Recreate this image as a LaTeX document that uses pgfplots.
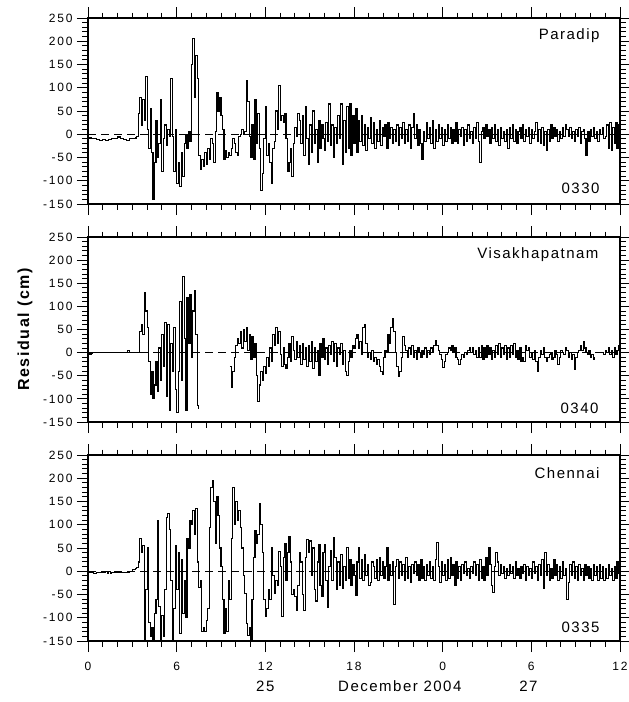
\documentclass[border=0pt]{standalone}
\usepackage{fontspec}
\setmainfont{Liberation Sans}
\newfontfamily\tickf[LetterSpace=15]{Liberation Sans}
\newfontfamily\labf[LetterSpace=10]{Liberation Sans}
\usepackage{pgfplots}
\pgfplotsset{compat=1.18}

\pgfplotsset{
  panel/.style={
    scale only axis, width=532pt, height=186pt, anchor=north west,
    xmin=0, xmax=36, ymin=-150, ymax=250,
    xtick={0,6,...,36}, minor x tick num=5,
    ytick={-150,-100,...,250}, minor y tick num=4,
    tick align=outside, major tick length=11pt, minor tick length=5.5pt,
    tick style={black, line width=1pt},
    axis line style={line width=1.3pt},
    clip mode=individual,
    ticklabel style={font=\tickf\fontsize{12}{13}\selectfont},
    yticklabel style={xshift=-1pt},
    /pgf/number format/assume math mode=true,
  },
  zero/.style={black, line width=1.1pt, dash pattern=on 8pt off 5pt},
  res/.style={black, line width=1.1pt, const plot, mark=none},
}
\tikzset{stn/.style={anchor=east, font=\labf\fontsize{15}{16}\selectfont}}

\begin{document}
\begin{tikzpicture}
\useasboundingbox (0,0) rectangle (629pt,-702pt);

% ---- Paradip
\begin{axis}[panel, at={(88pt,-18pt)}, xticklabels={}]
\addplot[zero] coordinates {(0,0) (36,0)};
\addplot[res] coordinates {
(0,-8)(0.2,-9)(0.4,-10)(0.6,-12)(0.8,-14)(1.0,-11)(1.2,-13)(1.4,-12)(1.6,-10)(1.8,-9)(2.0,-6)(2.2,-9)(2.4,-11)(2.6,-13)(2.8,-10)(3.0,-9)(3.2,-8)
(3.3,-5)(3.4,45)(3.5,80)(3.6,20)(3.7,75)(3.8,30)(3.9,125)(4.0,10)(4.1,-30)(4.2,55)(4.3,-40)(4.4,-140)(4.5,-60)(4.6,30)(4.7,-50)(4.8,-20)(4.9,75)
(5.0,-80)(5.1,-10)(5.2,20)(5.3,-25)(5.4,10)(5.5,-5)(5.6,120)(5.7,-5)(5.8,-80)(5.9,10)(6.0,-105)(6.1,-60)(6.2,-112)(6.3,-40)(6.4,-90)(6.5,-20)(6.6,0)(6.7,-30)(6.8,5)(6.9,-15)
(7.0,150)(7.1,205)(7.2,80)(7.3,170)(7.4,120)(7.5,-45)(7.6,-75)(7.7,-55)(7.8,-70)(7.9,-40)(8.0,-65)(8.1,-30)(8.2,-55)(8.3,-10)(8.4,-20)(8.5,-60)(8.6,5)(8.7,90)(8.8,50)(8.9,80)
(9.0,40)(9.1,10)(9.2,-55)(9.3,-35)(9.4,-50)(9.5,-40)(9.6,-45)(9.7,-30)(9.8,-10)(9.9,-20)(10.0,-40)(10.1,-45)(10.2,-5)(10.3,0)(10.4,10)(10.5,0)(10.6,5)(10.7,115)(10.8,70)(10.9,-5)
(11.0,-50)(11.1,20)(11.2,-55)(11.3,75)(11.4,-20)(11.5,45)(11.6,-30)(11.7,-120)(11.8,-85)(11.9,-10)(12.0,60)(12.1,-45)(12.2,-20)(12.3,-60)(12.4,-105)(12.5,-30)(12.6,-15)(12.7,50)(12.8,10)(12.9,105)
(13.0,30)(13.1,40)(13.2,25)(13.3,45)(13.4,-10)(13.5,-80)(13.6,-60)(13.7,-30)(13.8,-90)(13.9,-20)(14.0,15)(14.1,-5)(14.2,45)(14.3,30)(14.4,-20)(14.5,40)(14.6,-45)(14.7,60)(14.8,-10)(14.9,-65)
(15.0,20)(15.1,-40)(15.2,50)(15.3,-20)(15.4,10)(15.5,-60)(15.6,30)(15.7,-30)(15.8,20)(15.9,-10)(16.0,-35)(16.1,25)(16.2,-15)(16.3,65)(16.4,-25)(16.5,20)(16.6,-50)(16.7,15)(16.8,-20)(16.9,40)
(17.0,-10)(17.1,65)(17.2,-65)(17.3,30)(17.4,-40)(17.5,60)(17.6,-30)(17.7,65)(17.8,-45)(17.9,40)(18.0,-20)(18.1,55)(18.2,-40)(18.3,30)(18.4,-15)(18.5,40)(18.6,-25)(18.7,20)(18.8,-35)(18.9,15)
(19.0,-10)(19.1,35)(19.2,-20)(19.3,25)(19.4,-30)(19.5,10)(19.6,-15)(19.7,30)(19.8,-25)(19.9,15)(20.0,-5)(20.1,20)(20.2,-30)(20.3,25)(20.4,-10)(20.5,15)(20.6,-20)(20.7,10)(20.8,-15)(20.9,20)
(21.0,-25)(21.1,15)(21.2,-10)(21.3,25)(21.4,-20)(21.5,10)(21.6,-15)(21.7,20)(21.8,-30)(21.9,15)(22.0,45)(22.1,-10)(22.2,20)(22.3,-25)(22.4,10)(22.5,-20)(22.6,-55)(22.7,5)(22.8,-15)(22.9,25)
(23.0,-10)(23.1,15)(23.2,-20)(23.3,30)(23.4,-30)(23.5,10)(23.6,-15)(23.7,20)(23.8,-10)(23.9,15)(24.0,-25)(24.1,10)(24.2,-15)(24.3,20)(24.4,-10)(24.5,15)(24.6,-20)(24.7,10)(24.8,-15)(24.9,25)
(25.0,-20)(25.1,10)(25.2,-5)(25.3,15)(25.4,-25)(25.5,10)(25.6,-15)(25.7,20)(25.8,-10)(25.9,5)(26.0,-20)(26.1,15)(26.2,-10)(26.3,25)(26.4,-15)(26.5,-60)(26.6,5)(26.7,15)(26.8,-10)(26.9,20)
(27.0,-5)(27.1,10)(27.2,-20)(27.3,15)(27.4,-10)(27.5,20)(27.6,-15)(27.7,10)(27.8,-25)(27.9,15)(28.0,-10)(28.1,5)(28.2,-15)(28.3,10)(28.4,-30)(28.5,15)(28.6,-10)(28.7,20)(28.8,-15)(28.9,10)
(29.0,-20)(29.1,5)(29.2,15)(29.3,-10)(29.4,20)(29.5,-15)(29.6,10)(29.7,-5)(29.8,15)(29.9,-20)(30.0,10)(30.1,-10)(30.2,5)(30.3,25)(30.4,-15)(30.5,10)(30.6,-20)(30.7,15)(30.8,-25)(30.9,5)
(31.0,-35)(31.1,10)(31.2,-15)(31.3,20)(31.4,-10)(31.5,15)(31.6,-5)(31.7,10)(31.8,-15)(31.9,5)(32.0,-10)(32.1,15)(32.2,-5)(32.3,20)(32.4,10)(32.5,-5)(32.6,15)(32.7,-10)(32.8,5)(32.9,-15)
(33.0,10)(33.1,-5)(33.2,15)(33.3,-20)(33.4,5)(33.5,10)(33.6,-10)(33.7,-45)(33.8,5)(33.9,-15)(34.0,10)(34.1,-5)(34.2,15)(34.3,-10)(34.4,5)(34.5,-15)(34.6,10)(34.7,0)(34.8,15)(34.9,-10)
(35.0,-5)(35.1,20)(35.2,-30)(35.3,25)(35.4,-35)(35.5,15)(35.6,-20)(35.7,25)(35.8,-30)(35.9,20)(36.0,5)
};
\node[stn] at (rel axis cs:1,1) [xshift=-17pt, yshift=-18pt] {Paradip};
\node[stn] at (rel axis cs:1,0) [xshift=-17pt, yshift=16pt] {0330};
\end{axis}

% ---- Visakhapatnam
\begin{axis}[panel, at={(88pt,-237pt)}, height=185pt, xticklabels={}]
\addplot[zero] coordinates {(0,0) (36,0)};
\addplot[res] coordinates {
(0,-3)(0.2,-2)(0.3,0)(1.0,0)(2.0,0)(2.6,0)(2.7,5)(2.8,0)(3.4,0)
(3.5,45)(3.6,60)(3.7,40)(3.8,130)(3.9,90)(4.0,55)(4.1,-20)(4.2,-90)(4.3,-40)(4.4,-100)(4.5,-70)(4.6,-20)(4.7,-85)(4.8,10)(4.9,-60)
(5.0,40)(5.1,-30)(5.2,65)(5.3,-95)(5.4,60)(5.5,-125)(5.6,20)(5.7,-40)(5.8,55)(5.9,-80)(6.0,-130)(6.1,-40)(6.2,110)(6.3,-60)(6.4,165)(6.5,30)(6.6,-125)(6.7,120)(6.8,20)(6.9,125)
(7.0,-10)(7.1,90)(7.2,135)(7.3,40)(7.4,-115)(7.5,-122)
};
\addplot[res] coordinates {
(9.6,-30)(9.7,-75)(9.8,-40)(9.9,-10)(10.0,15)(10.1,30)(10.2,20)(10.3,45)(10.4,10)(10.5,50)(10.6,25)(10.7,55)(10.8,5)(10.9,40)
(11.0,-15)(11.1,35)(11.2,-10)(11.3,20)(11.4,-50)(11.5,-105)(11.6,-70)(11.7,-40)(11.8,-60)(11.9,-30)(12.0,-45)(12.1,-10)(12.2,-30)(12.3,10)(12.4,-20)(12.5,40)(12.6,15)(12.7,55)(12.8,20)(12.9,45)
(13.0,-5)(13.1,-30)(13.2,10)(13.3,-25)(13.4,-35)(13.5,-10)(13.6,20)(13.7,-20)(13.8,35)(13.9,5)(14.0,-15)(14.1,25)(14.2,-10)(14.3,15)(14.4,-25)(14.5,20)(14.6,-15)(14.7,10)(14.8,-30)(14.9,15)
(15.0,-20)(15.1,25)(15.2,-35)(15.3,10)(15.4,-20)(15.5,5)(15.6,-50)(15.7,20)(15.8,-10)(15.9,30)(16.0,-15)(16.1,10)(16.2,-25)(16.3,15)(16.4,-5)(16.5,25)(16.6,-20)(16.7,20)(16.8,-30)(16.9,10)
(17.0,-5)(17.1,20)(17.2,-25)(17.3,5)(17.4,-40)(17.5,-50)(17.6,-20)(17.7,5)(17.8,-10)(17.9,15)(18.0,10)(18.1,30)(18.2,40)(18.3,10)(18.4,25)(18.5,-5)(18.6,55)(18.7,60)(18.8,20)(18.9,-10)
(19.0,0)(19.1,-15)(19.2,5)(19.3,-20)(19.4,-10)(19.5,-25)(19.6,-15)(19.7,-30)(19.8,-40)(19.9,-48)(20.0,-10)(20.1,5)(20.2,0)(20.3,40)(20.4,20)(20.5,55)(20.6,74)(20.7,45)(20.8,0)(20.9,-30)
(21.0,-52)(21.1,-40)(21.2,-10)(21.3,34)(21.4,15)(21.5,5)(21.6,-10)(21.7,10)(21.8,-5)(21.9,15)(22.0,-10)(22.1,5)(22.2,-15)(22.3,10)(22.4,0)(22.5,-10)(22.6,5)(22.7,-5)(22.8,10)(22.9,-10)
(23.0,5)(23.1,-5)(23.2,10)(23.3,0)(23.4,15)(23.5,27)(23.6,15)(23.7,5)(23.8,-5)(23.9,-15)(24.0,-33)(24.1,-20)(24.2,-5)(24.3,0)(24.4,10)(24.5,5)(24.6,15)(24.7,0)(24.8,10)(24.9,-10)
(25.0,-15)(25.1,-25)(25.2,-15)(25.3,-5)(25.4,-10)(25.5,0)(25.6,-5)(25.7,5)(25.8,10)(25.9,0)(26.0,10)(26.1,-5)(26.2,5)(26.3,-10)(26.4,10)(26.5,-10)(26.6,15)(26.7,-15)(26.8,10)(26.9,-10)
(27.0,15)(27.1,-5)(27.2,10)(27.3,-15)(27.4,5)(27.5,-10)(27.6,15)(27.7,-5)(27.8,20)(27.9,-10)(28.0,10)(28.1,-5)(28.2,15)(28.3,-15)(28.4,10)(28.5,-10)(28.6,15)(28.7,-5)(28.8,20)(28.9,-10)
(29.0,5)(29.1,-15)(29.2,10)(29.3,-20)(29.4,-10)(29.5,-20)(29.6,15)(29.7,5)(29.8,10)(29.9,-10)(30.0,0)(30.1,-15)(30.2,5)(30.3,-20)(30.4,-40)(30.5,-10)(30.6,5)(30.7,-5)(30.8,10)(30.9,-10)
(31.0,-20)(31.1,-10)(31.2,-5)(31.3,0)(31.4,-15)(31.5,-10)(31.6,5)(31.7,-5)(31.8,-25)(31.9,-10)(32.0,5)(32.1,0)(32.2,-5)(32.3,10)(32.4,5)(32.5,-10)(32.6,0)(32.7,-15)(32.8,-5)(32.9,-36)
(33.0,-10)(33.1,0)(33.2,5)(33.3,15)(33.4,5)(33.5,24)(33.6,10)(33.7,0)(33.8,-5)(33.9,5)(34.0,-10)(34.1,-5)(34.2,-15)(34.3,-10)
};
\addplot[res] coordinates {
(34.8,0)(34.9,-5)(35.0,5)(35.1,0)(35.2,10)(35.3,-5)(35.4,5)(35.5,-10)(35.6,10)(35.7,-5)(35.8,5)(35.9,15)(36.0,5)
};
\node[stn] at (rel axis cs:1,1) [xshift=-18pt, yshift=-18pt] {Visakhapatnam};
\node[stn] at (rel axis cs:1,0) [xshift=-18pt, yshift=14pt] {0340};
\end{axis}

% ---- Chennai
\begin{axis}[panel, at={(88pt,-455pt)}, xticklabels={0,6,12,18,0,6,12},
  xticklabel style={yshift=-7pt}]
\addplot[zero] coordinates {(0,0) (36,0)};
\addplot[res] coordinates {
(0,-2)(0.2,-3)(0.4,-4)(0.6,-3)(0.8,-2)(1.0,-3)(1.2,-1)(1.3,-5)(1.4,-1)(1.5,-5)(1.6,-2)(1.8,-3)(2.0,-2)(2.4,-2)(2.8,0)(3.0,3)(3.2,5)(3.3,8)
(3.4,20)(3.5,70)(3.6,40)(3.7,55)(3.8,-160)(3.9,-40)(4.0,50)(4.1,-110)(4.2,-140)(4.3,-120)(4.4,-165)(4.5,-90)(4.6,-60)(4.7,110)(4.8,-75)(4.9,-160)
(5.0,-95)(5.1,-140)(5.2,-40)(5.3,115)(5.4,125)(5.5,90)(5.6,-20)(5.7,-160)(5.8,-80)(5.9,55)(6.0,-40)(6.1,40)(6.2,-134)(6.3,25)(6.4,-90)(6.5,-20)(6.6,-100)(6.7,70)(6.8,50)(6.9,110)
(7.0,100)(7.1,130)(7.2,80)(7.3,135)(7.4,20)(7.5,-34)(7.6,-20)(7.7,-130)(7.8,-120)(7.9,-130)(8.0,-105)(8.1,-80)(8.2,95)(8.3,180)(8.4,196)(8.5,150)(8.6,60)(8.7,160)(8.8,120)(8.9,50)
(9.0,10)(9.1,-60)(9.2,-133)(9.3,-80)(9.4,-130)(9.5,-20)(9.6,-60)(9.7,70)(9.8,181)(9.9,100)(10.0,150)(10.1,110)(10.2,130)(10.3,95)(10.4,50)(10.5,-10)(10.6,-48)(10.7,-112)(10.8,-138)(10.9,-120)
(11.0,-155)(11.1,-60)(11.2,30)(11.3,88)(11.4,60)(11.5,80)(11.6,146)(11.7,100)(11.8,40)(11.9,-60)(12.0,-98)(12.1,-80)(12.2,-40)(12.3,-60)(12.4,52)(12.5,-10)(12.6,-48)(12.7,-20)(12.8,-30)(12.9,42)
(13.0,10)(13.1,-98)(13.2,30)(13.3,60)(13.4,-20)(13.5,40)(13.6,74)(13.7,20)(13.8,-50)(13.9,-40)(14.0,-55)(14.1,-84)(14.2,-30)(14.3,40)(14.4,20)(14.5,-50)(14.6,-85)(14.7,30)(14.8,69)(14.9,40)
(15.0,65)(15.1,-10)(15.2,50)(15.3,-40)(15.4,-64)(15.5,20)(15.6,58)(15.7,-30)(15.8,-55)(15.9,40)(16.0,58)(16.1,-20)(16.2,-78)(16.3,10)(16.4,45)(16.5,-20)(16.6,73)(16.7,30)(16.8,-40)(16.9,20)
(17.0,-30)(17.1,36)(17.2,-37)(17.3,10)(17.4,-20)(17.5,51)(17.6,-15)(17.7,25)(17.8,-30)(17.9,15)(18.0,-10)(18.1,-53)(18.2,20)(18.3,51)(18.4,-15)(18.5,25)(18.6,-20)(18.7,35)(18.8,-10)(18.9,15)
(19.0,-30)(19.1,-25)(19.2,20)(19.3,10)(19.4,-15)(19.5,25)(19.6,-20)(19.7,30)(19.8,-10)(19.9,20)(20.0,-15)(20.1,10)(20.2,51)(20.3,-20)(20.4,15)(20.5,-10)(20.6,20)(20.7,-71)(20.8,10)(20.9,25)
(21.0,-15)(21.1,20)(21.2,-10)(21.3,15)(21.4,-20)(21.5,30)(21.6,-15)(21.7,10)(21.8,-25)(21.9,15)(22.0,-5)(22.1,20)(22.2,-10)(22.3,15)(22.4,-20)(22.5,25)(22.6,-15)(22.7,10)(22.8,-20)(22.9,15)
(23.0,-10)(23.1,20)(23.2,-15)(23.3,10)(23.4,-20)(23.5,25)(23.6,62)(23.7,10)(23.8,-25)(23.9,20)(24.0,-10)(24.1,15)(24.2,-20)(24.3,25)(24.4,-15)(24.5,30)(24.6,-10)(24.7,15)(24.8,-30)(24.9,20)
(25.0,-15)(25.1,10)(25.2,-20)(25.3,15)(25.4,-5)(25.5,20)(25.6,-10)(25.7,5)(25.8,-15)(25.9,10)(26.0,-5)(26.1,20)(26.2,-10)(26.3,15)(26.4,-20)(26.5,25)(26.6,-15)(26.7,10)(26.8,-20)(26.9,30)
(27.0,-10)(27.1,51)(27.2,15)(27.3,-30)(27.4,-45)(27.5,10)(27.6,41)(27.7,20)(27.8,-10)(27.9,15)(28.0,-5)(28.1,10)(28.2,-15)(28.3,5)(28.4,-10)(28.5,15)(28.6,-5)(28.7,10)(28.8,-15)(28.9,20)
(29.0,-10)(29.1,5)(29.2,-15)(29.3,10)(29.4,-5)(29.5,15)(29.6,-20)(29.7,10)(29.8,-10)(29.9,5)(30.0,-15)(30.1,20)(30.2,-5)(30.3,10)(30.4,-20)(30.5,15)(30.6,-10)(30.7,25)(30.8,-37)(30.9,41)
(31.0,-10)(31.1,15)(31.2,-20)(31.3,5)(31.4,-15)(31.5,26)(31.6,-10)(31.7,15)(31.8,-20)(31.9,10)(32.0,-15)(32.1,20)(32.2,-10)(32.3,5)(32.4,-60)(32.5,-25)(32.6,15)(32.7,-10)(32.8,20)(32.9,-15)
(33.0,10)(33.1,-20)(33.2,15)(33.3,-10)(33.4,5)(33.5,-20)(33.6,15)(33.7,-10)(33.8,10)(33.9,-15)(34.0,5)(34.1,-20)(34.2,15)(34.3,-10)(34.4,10)(34.5,-20)(34.6,15)(34.7,-15)(34.8,10)(34.9,-20)
(35.0,5)(35.1,-15)(35.2,15)(35.3,-10)(35.4,5)(35.5,-20)(35.6,10)(35.7,-15)(35.8,20)(35.9,-5)(36.0,10)
};
\node[stn] at (rel axis cs:1,1) [xshift=-17pt, yshift=-18pt] {Chennai};
\node[stn] at (rel axis cs:1,0) [xshift=-17pt, yshift=14pt] {0335};
\node[font=\labf\fontsize{15}{16}\selectfont] at (axis cs:12,-150) [yshift=-45pt] {25};
\node[font=\labf\fontsize{15}{16}\selectfont] at (axis cs:21.1,-150) [yshift=-45pt] {December 2004};
\node[font=\labf\fontsize{15}{16}\selectfont] at (axis cs:29.8,-150) [yshift=-45pt] {27};
\end{axis}

\node[rotate=90, font=\labf\fontsize{16}{17}\selectfont\bfseries] at (25pt,-329.5pt) {Residual (cm)};
\end{tikzpicture}
\end{document}
